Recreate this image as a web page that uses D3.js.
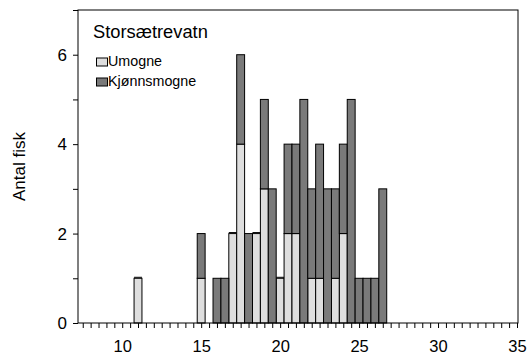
<!DOCTYPE html>
<html>
<head>
<meta charset="utf-8">
<script src="https://cdn.jsdelivr.net/npm/d3@7/dist/d3.min.js"></script>
<style>
  html, body { margin: 0; padding: 0; background: #fff; }
  svg { display: block; }
  text { font-family: "Liberation Sans", Arial, Helvetica, sans-serif; fill: #000; }
</style>
</head>
<body>
<svg id="chart" width="527" height="356"></svg>
<script>
// Length classes (cm, bin centres) with fish counts per maturity stage
const lengths = [11, 15, 16, 16.5, 17, 17.5, 18, 18.5, 19, 19.5, 20, 20.5, 21, 21.5, 22, 22.5, 23, 23.5, 24, 24.5, 25, 25.5, 26, 26.5];
const umogne = [1, 1, 0, 0, 2, 4, 0, 2, 3, 0, 1, 2, 2, 0, 1, 1, 0, 1, 2, 0, 0, 0, 0, 0];
const kjonnsmogne = [0, 1, 1, 1, 0, 2, 2, 0, 2, 3, 0, 2, 2, 5, 2, 3, 3, 2, 2, 5, 1, 1, 1, 3];
const seriesNames = ["Umogne", "Kjønnsmogne"];
const seriesColors = ["#dedede", "#7a7a7a"];
const title = "Storsætrevatn";
const yTitle = "Antal fisk";
const xTickLabels = [10, 15, 20, 25, 30, 35];
const yTickLabels = [0, 2, 4, 6];
const binWidth = 0.5;

(function () {
  const svg = d3.select("#chart");
  const mLeft = 78, mRight = 517, mTop = 10, mBottom = 323;

  const x = d3.scaleLinear().domain([7.2, 35]).range([mLeft, mRight]);
  const y = d3.scaleLinear().domain([0, 7]).range([mBottom, mTop]);

  // Stack the two stages
  const rows = lengths.map((l, i) => ({ len: l, Umogne: umogne[i], "Kjønnsmogne": kjonnsmogne[i] }));
  const stacked = d3.stack().keys(seriesNames)(rows);

  const g = svg.append("g");
  stacked.forEach((layer, si) => {
    const col = seriesColors[si];
    layer.forEach(seg => {
      const x0 = x(seg.data.len - binWidth / 2), x1 = x(seg.data.len + binWidth / 2);
      if (seg[1] > seg[0]) {
        g.append("rect")
          .attr("x", x0).attr("width", x1 - x0)
          .attr("y", y(seg[1])).attr("height", y(seg[0]) - y(seg[1]))
          .attr("fill", col).attr("stroke", "#000").attr("stroke-width", 1);
      } else if (seg[0] > 0) {
        // empty segment sitting on top of a bar: outline only
        g.append("line")
          .attr("x1", x0).attr("x2", x1)
          .attr("y1", y(seg[0]) - 1).attr("y2", y(seg[0]) - 1)
          .attr("stroke", "#000").attr("stroke-width", 1);
      }
    });
  });

  // Frame
  svg.append("rect")
    .attr("x", mLeft).attr("y", mTop)
    .attr("width", mRight + 1 - mLeft).attr("height", mBottom - mTop)
    .attr("fill", "none").attr("stroke", "#000").attr("stroke-width", 1);

  // X axis
  const xAxis = d3.axisBottom(x)
    .tickValues(d3.range(7.5, 35.001, 0.5))
    .tickSize(5).tickSizeOuter(0).tickPadding(12)
    .tickFormat(d => xTickLabels.includes(d) ? String(d) : "");
  const gx = svg.append("g").attr("transform", `translate(0,${mBottom})`).call(xAxis);
  gx.select(".domain").remove();
  gx.selectAll("text").style("font-size", "16.5px").attr("font-family", null);

  // Y axis
  const yAxis = d3.axisLeft(y)
    .tickValues(d3.range(0, 7.001, 1))
    .tickSize(5).tickSizeOuter(0).tickPadding(6)
    .tickFormat(d => yTickLabels.includes(d) ? String(d) : "");
  const gy = svg.append("g").attr("transform", `translate(${mLeft},0)`).call(yAxis);
  gy.select(".domain").remove();
  gy.selectAll("text").style("font-size", "17px").attr("font-family", null);

  // Y title
  svg.append("text")
    .attr("transform", `translate(25,${(mTop + mBottom) / 2}) rotate(-90)`)
    .attr("text-anchor", "middle")
    .style("font-size", "17px")
    .text(yTitle);

  // Panel title
  svg.append("text")
    .attr("x", 93).attr("y", 38)
    .style("font-size", "18.3px")
    .text(title);

  // Legend
  seriesNames.forEach((name, i) => {
    const ly = 62 + i * 20;
    svg.append("rect")
      .attr("x", 96.5).attr("y", ly - 4).attr("width", 11).attr("height", 8)
      .attr("fill", seriesColors[i]).attr("stroke", "#000").attr("stroke-width", 1);
    svg.append("text")
      .attr("x", 108).attr("y", ly + 4)
      .style("font-size", "14.3px")
      .text(name);
  });
})();
</script>
</body>
</html>
